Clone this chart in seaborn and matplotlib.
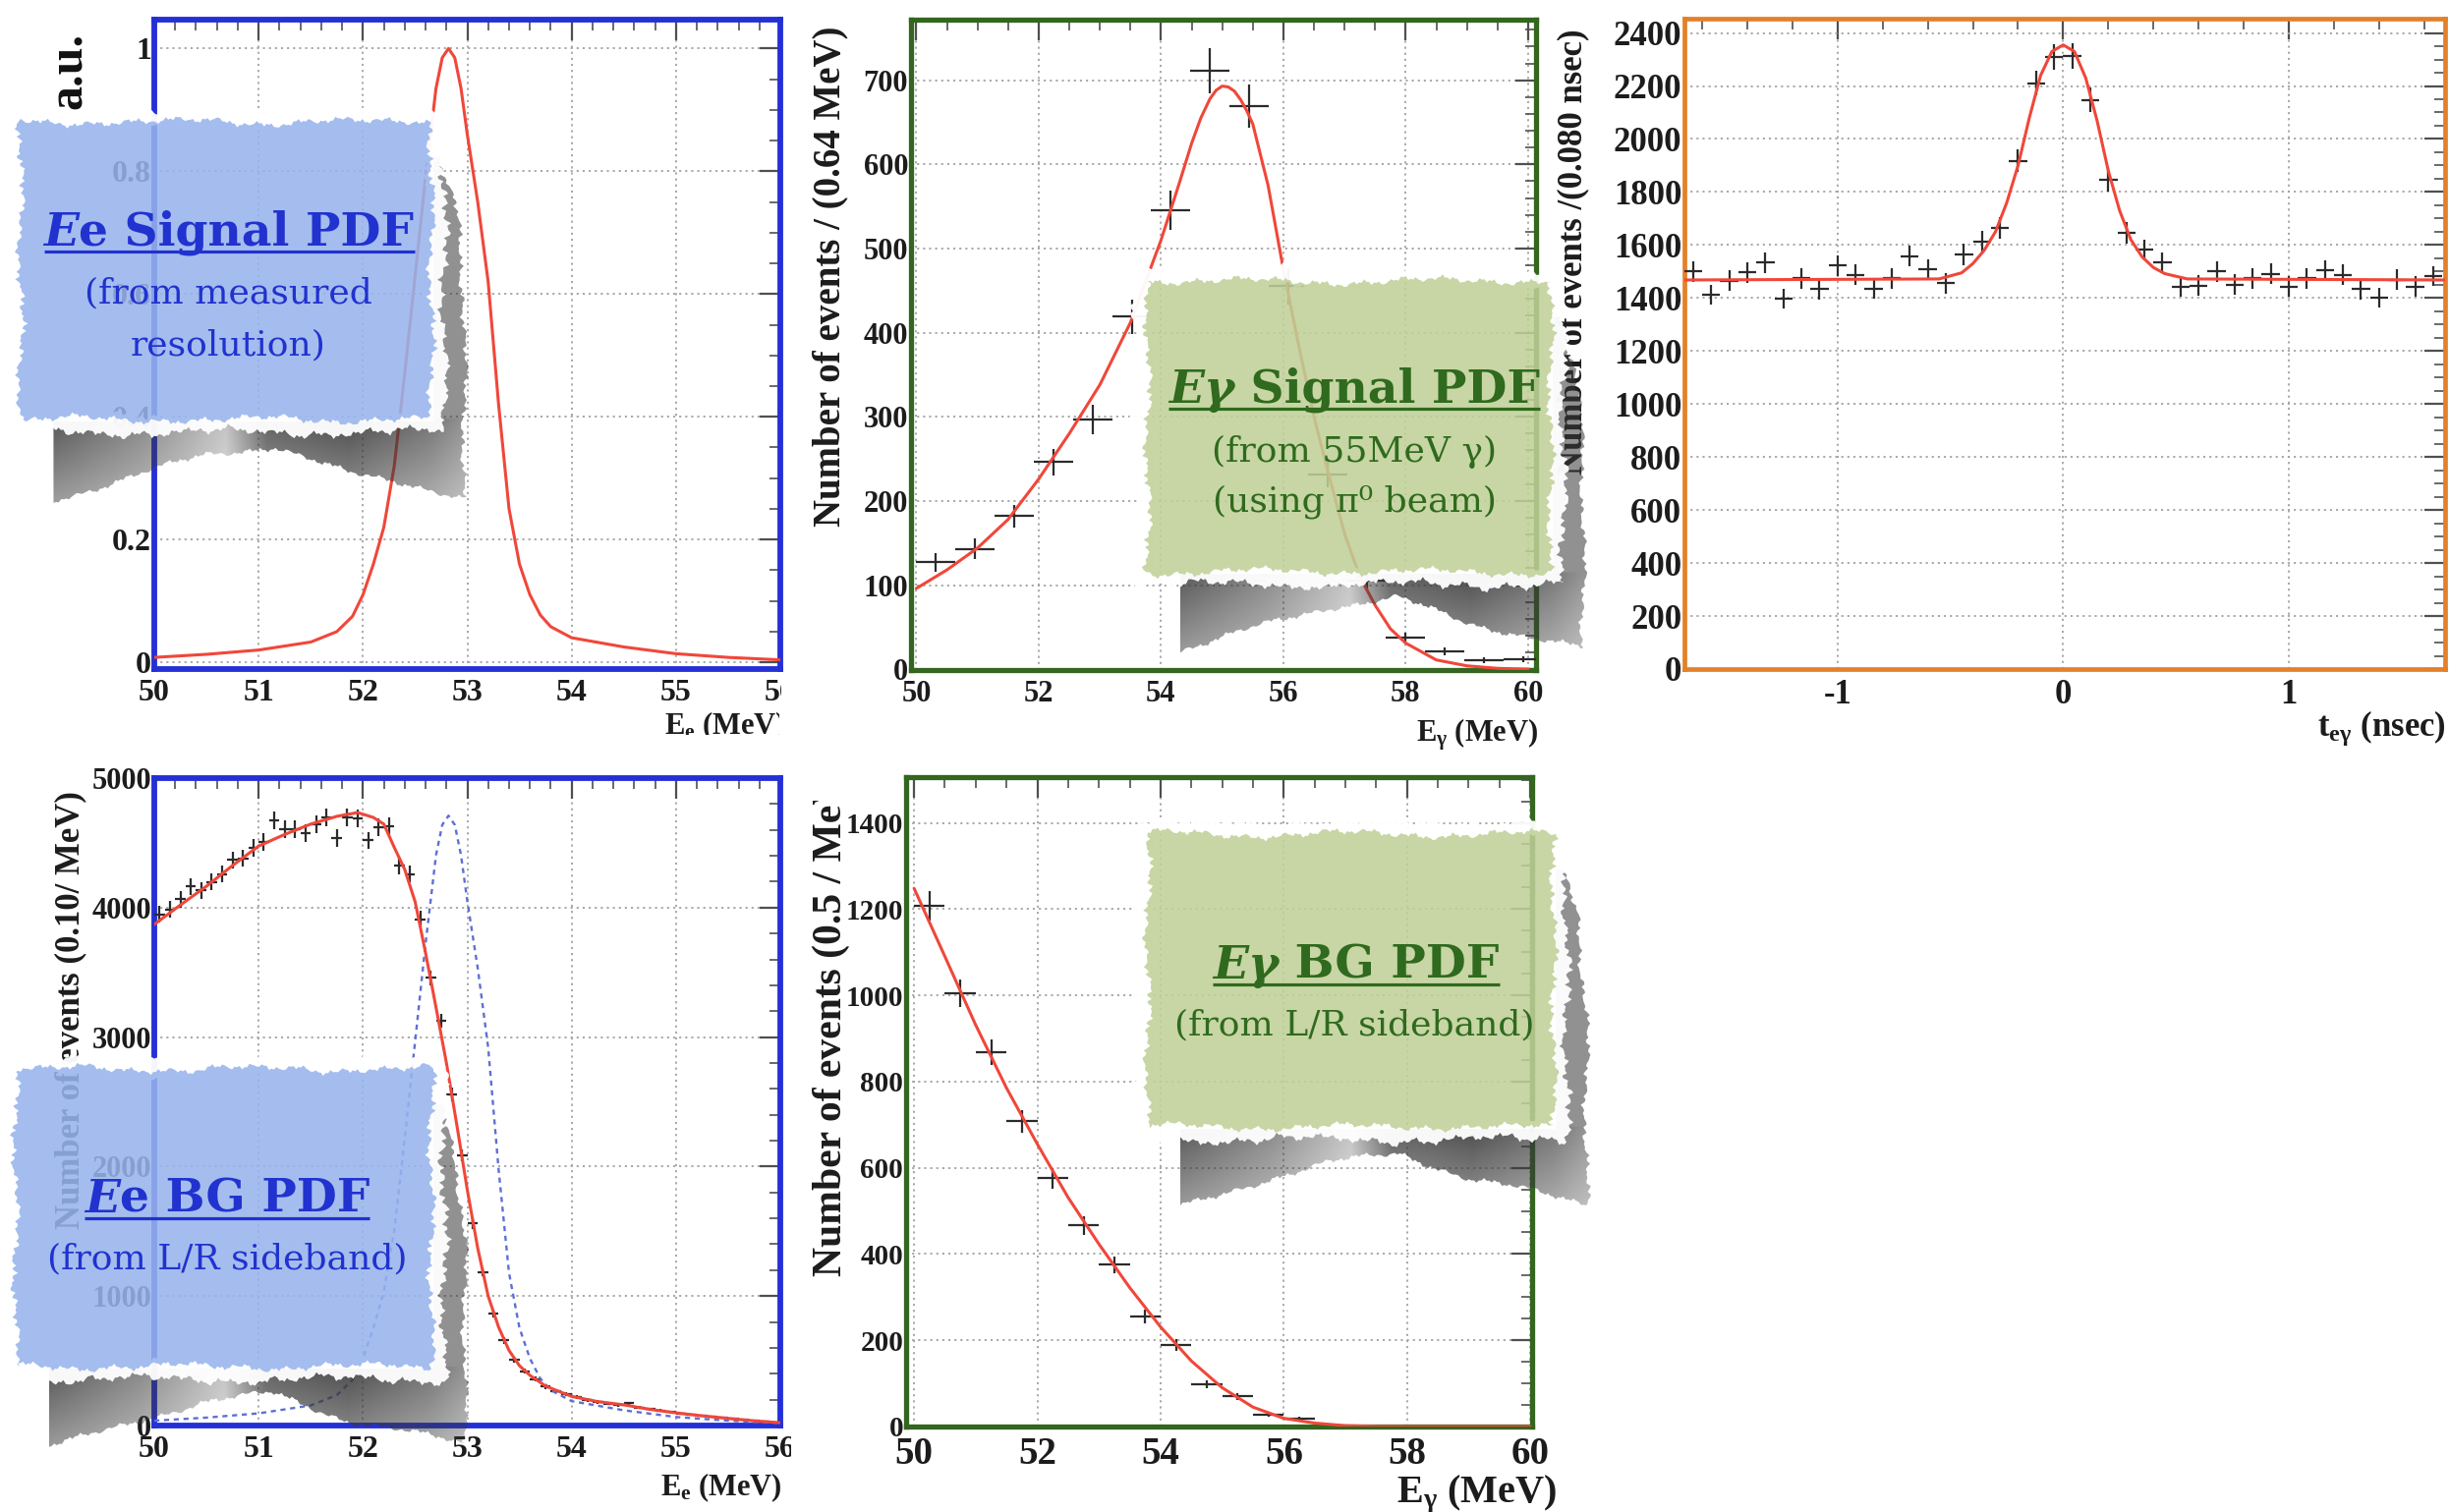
import numpy as np
import matplotlib
matplotlib.use("Agg")
import matplotlib.pyplot as plt
import seaborn as sns
from matplotlib.patches import Polygon, PathPatch
from matplotlib.path import Path
from matplotlib.ticker import MultipleLocator
from matplotlib.transforms import Bbox

W, H, DPI = 2492, 1539, 100

# ---------------------------------------------------------------- data
# Ee signal PDF (normalised to its maximum)
ee_sig_x = [50.0, 50.5, 51.0, 51.5, 51.75, 51.9, 52.0, 52.1, 52.2, 52.3, 52.4, 52.5,
            52.6, 52.7, 52.76, 52.82, 52.88, 52.94, 53.0, 53.1, 53.2, 53.3, 53.4, 53.5, 53.6,
            53.7, 53.8, 54.0, 54.5, 55.0, 55.5, 56.0]
ee_sig_y = [0.008, 0.013, 0.02, 0.033, 0.05, 0.075, 0.11, 0.16, 0.22, 0.32, 0.47, 0.63,
            0.79, 0.935, 0.985, 1.0, 0.985, 0.935, 0.86, 0.75, 0.62, 0.42, 0.25, 0.16, 0.11,
            0.077, 0.058, 0.04, 0.025, 0.014, 0.008, 0.004]

# E_gamma signal from the pi0 calibration beam (0.64 MeV bins) and its fit
eg_sig_bin_x = [50.32, 50.96, 51.60, 52.24, 52.88, 53.52, 54.16, 54.80,
                55.44, 56.08, 56.72, 57.36, 58.00, 58.64, 59.28, 59.92]
eg_sig_counts = [127, 143, 182, 246, 297, 419, 546, 711,
                 669, 455, 231, 105, 37, 21, 11, 12]
eg_sig_fit_x = [50.0, 50.5, 51.0, 51.5, 52.0, 52.5, 53.0, 53.5, 54.0, 54.3, 54.5, 54.65,
                54.8, 54.9, 55.0, 55.1, 55.2, 55.3, 55.4, 55.5, 55.75, 56.0, 56.25, 56.5,
                56.75, 57.0, 57.25, 57.5, 57.75, 58.0, 58.5, 59.0, 59.5, 60.0]
eg_sig_fit_y = [96, 118, 144, 178, 226, 280, 338, 412, 510, 578, 625, 655,
                678, 688, 693, 692, 687, 677, 664, 648, 575, 475, 385, 300,
                229, 161, 110, 76, 48, 31, 11, 4, 1, 0]

# t_e-gamma distribution (0.080 ns bins) and its fit
teg_bin_x = [-1.64, -1.56, -1.48, -1.40, -1.32, -1.24, -1.16, -1.08, -1.00, -0.92,
             -0.84, -0.76, -0.68, -0.60, -0.52, -0.44, -0.36, -0.28, -0.20, -0.12,
             -0.04, 0.04, 0.12, 0.20, 0.28, 0.36, 0.44, 0.52, 0.60, 0.68,
             0.76, 0.84, 0.92, 1.00, 1.08, 1.16, 1.24, 1.32, 1.40, 1.48, 1.56, 1.64]
teg_counts = [1501, 1411, 1465, 1497, 1533, 1397, 1474, 1433, 1523, 1487,
              1436, 1474, 1558, 1508, 1456, 1564, 1612, 1663, 1918, 2211,
              2310, 2313, 2148, 1846, 1645, 1582, 1533, 1443, 1447, 1501,
              1451, 1474, 1492, 1443, 1474, 1504, 1487, 1433, 1402, 1469, 1443, 1483]
teg_fit_x = [-1.68, -0.55, -0.45, -0.40, -0.35, -0.30, -0.25, -0.20, -0.15, -0.10,
             -0.05, 0.0, 0.05, 0.10, 0.15, 0.20, 0.25, 0.30, 0.35, 0.40, 0.45, 0.55, 1.69]
teg_fit_y = [1468, 1472, 1495, 1530, 1580, 1650, 1760, 1900, 2080, 2240,
             2330, 2355, 2330, 2230, 2070, 1880, 1730, 1620, 1555, 1515, 1492, 1472, 1468]

# Ee background from the L/R sidebands (0.10 MeV bins) and its fit
ee_bg_bin_x = [round(50.05 + 0.1 * i, 2) for i in range(60)]
ee_bg_counts = [3949, 3987, 4063, 4165, 4132, 4198, 4258, 4367, 4380, 4461,
                4506, 4676, 4608, 4608, 4577, 4646, 4696, 4537, 4696, 4689,
                4519, 4620, 4628, 4324, 4258, 3911, 3456, 3126, 2556, 2086,
                1560, 1184, 865, 658, 508, 421, 357, 301, 268, 242,
                218, 200, 184, 170, 160, 172, 140, 128, 115, 104,
                92, 84, 75, 66, 58, 50, 42, 36, 30, 25]
ee_bg_fit_x = [50.0, 50.25, 50.5, 50.75, 51.0, 51.25, 51.5, 51.75, 51.95, 52.1, 52.2,
               52.3, 52.4, 52.5, 52.6, 52.7, 52.8, 52.9, 53.0, 53.1, 53.2, 53.3, 53.4,
               53.5, 53.6, 53.75, 54.0, 54.25, 54.5, 54.75, 55.0, 55.25, 55.5, 55.75, 56.0]
ee_bg_fit_y = [3870, 4020, 4165, 4325, 4475, 4565, 4645, 4705, 4734, 4696, 4645,
               4465, 4295, 4045, 3650, 3230, 2800, 2320, 1820, 1370, 1000, 760, 580,
               462, 388, 305, 225, 185, 160, 125, 98, 75, 55, 36, 22]
ee_sig_overlay_peak = 4710   # signal shape shown on the background scale

# E_gamma background from the L/R sidebands (0.5 MeV bins) and its fit
eg_bg_bin_x = [50.25, 50.75, 51.25, 51.75, 52.25, 52.75, 53.25, 53.75, 54.25,
               54.75, 55.25, 55.75, 56.25]
eg_bg_counts = [1208, 1005, 869, 708, 576, 466, 375, 256, 189, 98, 70, 28, 18]
eg_bg_fit_x = [50.0, 50.5, 51.0, 51.5, 52.0, 52.5, 53.0, 53.5, 54.0, 54.5, 55.0,
               55.5, 56.0, 56.5, 57.0, 57.5, 58.0, 59.0, 60.0]
eg_bg_fit_y = [1248, 1090, 931, 785, 655, 531, 423, 322, 231, 152, 90,
               45, 19, 8, 2, 0.5, 0, 0, 0]

# tick values / labels
ee_ticks = [50, 51, 52, 53, 54, 55, 56]
eg_ticks = [50, 52, 54, 56, 58, 60]
pdf_ticks = [0, 0.2, 0.4, 0.6, 0.8, 1.0]
pdf_labels = ["0", "0.2", "0.4", "0.6", "0.8", "1"]
teg_ticks = [-1, 0, 1]
teg_labels = ["-1", "0", "1"]

# ---------------------------------------------------------------- style
BLUE_FRAME = "#2430d6"
GREEN_FRAME = "#33661f"
ORANGE_FRAME = "#e4802a"
FIT_RED = "#f0473a"
CROSS = "#2b2b2b"
BLUE_PAPER = "#97b4ec"
BLUE_TEXT = "#2132cf"
GREEN_PAPER = "#bfd097"
GREEN_TEXT = "#2f6a1e"

sns.set_theme(style="white")
plt.rcParams["font.family"] = ["Liberation Serif", "DejaVu Serif"]
plt.rcParams["mathtext.fontset"] = "custom"
plt.rcParams["mathtext.rm"] = "Liberation Serif"
plt.rcParams["mathtext.it"] = "Liberation Serif:italic"
plt.rcParams["mathtext.bf"] = "Liberation Serif:bold"

fig = plt.figure(figsize=(W / DPI, H / DPI), dpi=DPI)
fig.patch.set_facecolor("white")


def add_panel(box):
    x0, y0, x1, y1 = box
    return fig.add_axes([x0 / W, 1 - y1 / H, (x1 - x0) / W, (y1 - y0) / H])


def style_panel(ax, frame, lw, xlim, ylim, xt, xl, xminor, yt, yl, yminor, xsize, ysize):
    ax.set_xlim(*xlim)
    ax.set_ylim(*ylim)
    ax.set_xticks(xt, xl, fontweight="bold", color="#1c1c1c")
    ax.set_yticks(yt, yl, fontweight="bold", color="#1c1c1c")
    ax.xaxis.set_minor_locator(MultipleLocator(xminor))
    ax.yaxis.set_minor_locator(MultipleLocator(yminor))
    ax.set_axisbelow(True)
    ax.grid(True, which="major", color="#a3a3a3", linestyle=(0, (1.2, 2.2)), linewidth=1.3)
    ax.tick_params(which="both", direction="in", top=True, right=True, color="#505050")
    ax.tick_params(which="major", length=15, width=1.6)
    ax.tick_params(which="minor", length=8, width=1.2)
    ax.tick_params(axis="x", labelsize=xsize, pad=7)
    ax.tick_params(axis="y", labelsize=ysize, pad=2)
    for sp in ax.spines.values():
        sp.set_color(frame)
        sp.set_linewidth(lw)
    ax.set_facecolor("white")


def frac(box, xpx, ypx):
    x0, y0, x1, y1 = box
    return (xpx - x0) / (x1 - x0), (y1 - ypx) / (y1 - y0)


def place_xlabel(ax, box, text, size, xr, ytop):
    ax.set_xlabel(text, fontsize=size, fontweight="bold", loc="right", color="#1c1c1c")
    ax.xaxis.set_label_coords(*frac(box, xr, ytop))
    ax.xaxis.label.set_va("top")


def place_ylabel(ax, box, text, size, xc, yc, anchor="center"):
    ax.set_ylabel(text, fontsize=size, fontweight="bold", color="#1c1c1c")
    ax.yaxis.set_label_coords(*frac(box, xc, yc))
    ax.yaxis.label.set_va("center")
    ax.yaxis.label.set_ha(anchor)


def crosses(ax, x, y, half_width):
    ax.errorbar(x, y, xerr=half_width, yerr=np.sqrt(np.asarray(y, float)), fmt="none",
                ecolor=CROSS, elinewidth=1.6, capsize=0, zorder=3)


def fit_line(ax, x, y, **kw):
    sns.lineplot(x=x, y=y, ax=ax, estimator=None, sort=False, zorder=4, **kw)


# ---------------------------------------------------------------- panels
box1 = (157, 20, 794, 681)
ax1 = add_panel(box1)
fit_line(ax1, ee_sig_x, ee_sig_y, color=FIT_RED, linewidth=2.2)
style_panel(ax1, BLUE_FRAME, 4.2, (50, 56), (-0.011, 1.047), ee_ticks,
            [str(t) for t in ee_ticks], 0.2, pdf_ticks, pdf_labels, 0.05, 23, 23)
place_xlabel(ax1, box1, r"E$_{\mathbf{e}}$ (MeV)", 22, 800, 722)

box2 = (927, 20, 1563, 682)
ax2 = add_panel(box2)
crosses(ax2, eg_sig_bin_x, eg_sig_counts, 0.32)
fit_line(ax2, eg_sig_fit_x, eg_sig_fit_y, color=FIT_RED, linewidth=2.2)
style_panel(ax2, GREEN_FRAME, 3.8, (49.913, 60.13), (-1, 772), eg_ticks,
            [str(t) for t in eg_ticks], 0.5, list(range(0, 701, 100)),
            [str(t) for t in range(0, 701, 100)], 20, 22, 22)
place_xlabel(ax2, box2, r"E$_{\mathbf{\gamma}}$ (MeV)", 22, 1565, 729)
place_ylabel(ax2, box2, "Number of events / (0.64 MeV)", 28, 845, 281)

box3 = (1714, 19, 2488, 681)
ax3 = add_panel(box3)
crosses(ax3, teg_bin_x, teg_counts, 0.04)
fit_line(ax3, teg_fit_x, teg_fit_y, color=FIT_RED, linewidth=2.2)
style_panel(ax3, ORANGE_FRAME, 3.4, (-1.6786, 1.6925), (0, 2454), teg_ticks, teg_labels,
            0.2, list(range(0, 2401, 200)), [str(t) for t in range(0, 2401, 200)], 50, 25, 25)
place_xlabel(ax3, box3, r"t$_{\mathbf{e\gamma}}$ (nsec)", 25, 2489, 722)
place_ylabel(ax3, box3, "Number of events /(0.080 nsec)", 25, 1601, 256)

box4 = (157, 792, 794, 1451)
ax4 = add_panel(box4)
fit_line(ax4, ee_sig_x, np.asarray(ee_sig_y) * ee_sig_overlay_peak, color="#5d6fd6",
         linewidth=1.7, linestyle=(0, (2.2, 2.0)))
crosses(ax4, ee_bg_bin_x, ee_bg_counts, 0.05)
fit_line(ax4, ee_bg_fit_x, ee_bg_fit_y, color=FIT_RED, linewidth=2.2)
style_panel(ax4, BLUE_FRAME, 4.2, (50, 56), (0, 5000), ee_ticks,
            [str(t) for t in ee_ticks], 0.2, list(range(0, 5001, 1000)),
            [str(t) for t in range(0, 5001, 1000)], 200, 23, 22)
place_xlabel(ax4, box4, r"E$_{\mathbf{e}}$ (MeV)", 22, 796, 1497)
place_ylabel(ax4, box4, "Number of events (0.10/ MeV)", 25, 72, 1028)

box5 = (922, 791, 1559, 1452)
ax5 = add_panel(box5)
crosses(ax5, eg_bg_bin_x, eg_bg_counts, 0.25)
fit_line(ax5, eg_bg_fit_x, eg_bg_fit_y, color=FIT_RED, linewidth=2.2)
style_panel(ax5, GREEN_FRAME, 3.8, (49.87, 60.03), (0, 1506), eg_ticks,
            [str(t) for t in eg_ticks], 0.5, list(range(0, 1401, 200)),
            [str(t) for t in range(0, 1401, 200)], 50, 28, 21)
place_xlabel(ax5, box5, r"E$_{\mathbf{\gamma}}$ (MeV)", 29, 1584, 1500)
place_ylabel(ax5, box5, "Number of events (0.5 / MeV)", 30, 846, 1299, anchor="left")

# ---------------------------------------------------------------- torn-paper notes
ov = fig.add_axes([0, 0, 1, 1])
ov.set_xlim(0, W)
ov.set_ylim(H, 0)
ov.axis("off")
ov.patch.set_visible(False)
ov.set_zorder(10)


def fray(n, amp, phase):
    t = np.linspace(0, 1, n, endpoint=False)
    return amp * (0.45 * np.sin(2 * np.pi * 2.3 * t + phase)
                  + 0.30 * np.sin(2 * np.pi * 9.7 * t + 1.7 * phase)
                  + 0.25 * np.sin(2 * np.pi * 31.3 * t + 0.6 * phase)
                  + 0.18 * np.sin(2 * np.pi * 77.1 * t + 2.9 * phase)
                  + 0.12 * np.sin(2 * np.pi * 163.0 * t + 0.3 * phase))


def torn_outline(x0, y0, x1, y1, amp, phase):
    corners = [(x0, y0), (x1, y0), (x1, y1), (x0, y1)]
    pts = []
    for k in range(4):
        (ax_, ay_), (bx_, by_) = corners[k], corners[(k + 1) % 4]
        L = np.hypot(bx_ - ax_, by_ - ay_)
        n = max(int(L / 2.5), 30)
        t = np.linspace(0, 1, n, endpoint=False)
        nx, ny = (by_ - ay_) / L, -(bx_ - ax_) / L
        f = fray(n, amp, phase + 1.3 * k)
        pts.append(np.column_stack([ax_ + (bx_ - ax_) * t + nx * f,
                                    ay_ + (by_ - ay_) * t + ny * f]))
    return np.vstack(pts)


def curl_shadow(x0, y0, x1, y1, phase):
    w, h = x1 - x0, y1 - y0
    bx = [x0 + 0.08 * w, x0 + 0.25 * w, x0 + 0.45 * w, x0 + 0.62 * w, x0 + 0.8 * w, x1 + 0.08 * w]
    by = [y1 + 0.27 * h, y1 + 0.20 * h, y1 + 0.12 * h, y1 + 0.09 * h, y1 + 0.18 * h, y1 + 0.26 * h]
    xs = np.linspace(bx[0], bx[-1], 160)
    ys = np.interp(xs, bx, by) + fray(160, 5, phase)
    ry = np.linspace(y1 + 0.26 * h, y0 + 0.12 * h, 120)
    rx = np.interp(ry, [y0 + 0.12 * h, y0 + 0.3 * h, y0 + 0.6 * h, y1 + 0.26 * h],
                   [x1 + 0.02 * w, x1 + 0.06 * w, x1 + 0.08 * w, x1 + 0.08 * w]) + fray(120, 5, phase + 2)
    poly = np.vstack([[(x0 + 0.08 * w, y1 + 2)], np.column_stack([xs, ys]),
                      np.column_stack([rx, ry]), [(x1 + 2, y0 + 0.12 * h)], [(x1 + 2, y1 + 2)]])
    clip = Polygon(poly, closed=True, facecolor="none", edgecolor="none")
    ov.add_patch(clip)
    gx0, gx1 = poly[:, 0].min(), poly[:, 0].max()
    gy0, gy1 = poly[:, 1].min(), poly[:, 1].max()
    gx = np.linspace(gx0, gx1, 300)
    gy = np.linspace(gy0, gy1, 200)
    dark_x = np.interp(gx, [x0 + 0.08 * w, x0 + 0.3 * w, x0 + 0.5 * w, x0 + 0.6 * w,
                            x0 + 0.8 * w, x1, x1 + 0.08 * w],
                       [0.85, 0.6, 0.3, 0.8, 0.9, 0.7, 0.55])
    fade_y = np.clip(1.0 - 0.4 * (gy - y1) / (0.27 * h), 0.5, 1.0)
    dark = np.outer(fade_y, dark_x)
    side = (gx[None, :] > x1 - 10) & (gy[:, None] < y1)
    dark = np.where(side, 0.55, dark)
    rgba = np.zeros(dark.shape + (4,))
    rgba[..., :3] = 0.22
    rgba[..., 3] = dark
    im = ov.imshow(rgba, extent=(gx0, gx1, gy1, gy0), origin="upper", interpolation="bilinear",
                   aspect="auto", zorder=1)
    im.set_clip_path(clip)


def ring_path(outer, inner):
    inner = inner[::-1]
    verts = np.vstack([outer, outer[:1], inner, inner[:1]])
    codes = ([Path.MOVETO] + [Path.LINETO] * (len(outer) - 1) + [Path.CLOSEPOLY]
             + [Path.MOVETO] + [Path.LINETO] * (len(inner) - 1) + [Path.CLOSEPOLY])
    return Path(verts, codes)


def torn_note(box, paper, phase):
    x0, y0, x1, y1 = box
    curl_shadow(x0, y0, x1, y1, phase)
    outer = torn_outline(x0 - 14, y0 - 12, x1 + 13, y1 + 13, 7, phase + 0.7)
    inner = torn_outline(x0 + 5, y0 + 5, x1 - 5, y1 - 5, 6, phase + 1.9)
    ov.add_patch(PathPatch(ring_path(outer, inner), facecolor="white", edgecolor="none",
                           alpha=0.96, zorder=2))
    ov.add_patch(Polygon(torn_outline(x0, y0, x1, y1, 6, phase + 1.9),
                         closed=True, facecolor=paper, edgecolor="none", alpha=0.87, zorder=3))


def styled_line(xc, yb, parts, size, color, weight, underline=False):
    r = fig.canvas.get_renderer()
    texts = []
    for s, style in parts:
        texts.append(ov.text(0, yb, s, fontsize=size, color=color, fontweight=weight,
                             fontstyle=style, family="DejaVu Serif", ha="left",
                             va="baseline", zorder=5))
    widths = [t.get_window_extent(r).width for t in texts]
    total = sum(widths)
    x = xc - total / 2
    for t, w_ in zip(texts, widths):
        t.set_x(x)
        x += w_
    if underline:
        ov.plot([xc - total / 2, xc + total / 2], [yb + 6, yb + 6], color=color, lw=2.3,
                solid_capstyle="butt", zorder=5)


notes = [
    ((21, 124, 439, 427), BLUE_PAPER, BLUE_TEXT, 0.4,
     (233, 250, [("E", "italic"), ("e Signal PDF", "normal")]),
     [(232, 308, "(from measured"), (232, 361, "resolution)")]),
    ((1168, 286, 1578, 582), GREEN_PAPER, GREEN_TEXT, 2.2,
     (1378, 410, [("E\u03b3", "italic"), (" Signal PDF", "normal")]),
     [(1378, 470, "(from 55MeV \u03b3)"), (1378, 521, "(using \u03c0\u2070 beam)")]),
    ((16, 1088, 439, 1391), BLUE_PAPER, BLUE_TEXT, 4.1,
     (231, 1234, [("E", "italic"), ("e BG PDF", "normal")]),
     [(231, 1291, "(from L/R sideband)")]),
    ((1168, 849, 1581, 1147), GREEN_PAPER, GREEN_TEXT, 5.3,
     (1380, 996, [("E\u03b3", "italic"), (" BG PDF", "normal")]),
     [(1378, 1053, "(from L/R sideband)")]),
]
for box, paper, ink, ph, (tx, ty, parts), subs in notes:
    torn_note(box, paper, ph)
    styled_line(tx, ty, parts, 34, ink, "bold", underline=True)
    for sx, sy, s in subs:
        styled_line(sx, sy, [(s, "normal")], 26, ink, "normal")

ov.text(70.5, 33, "a.u.", rotation=90, rotation_mode="anchor", ha="right", va="center",
        fontsize=36, fontweight="bold", color="#111111", zorder=6)

# ---------------------------------------------------------------- cropped edges
fig.canvas.draw()


def clip_px(artist, x0, y0, x1, y1):
    artist.set_clip_on(True)
    artist.set_clip_box(Bbox.from_extents(x0, H - y1, x1, H - y0))


for lab in ax1.get_xticklabels():
    clip_px(lab, 0, 0, 795, H)
clip_px(ax1.xaxis.label, 0, 0, 793, 748)
for lab in ax4.get_xticklabels():
    clip_px(lab, 0, 0, 805, H)
clip_px(ax5.yaxis.label, 0, 815, W, H)

fig.savefig("out.png", dpi=DPI, facecolor="white")
